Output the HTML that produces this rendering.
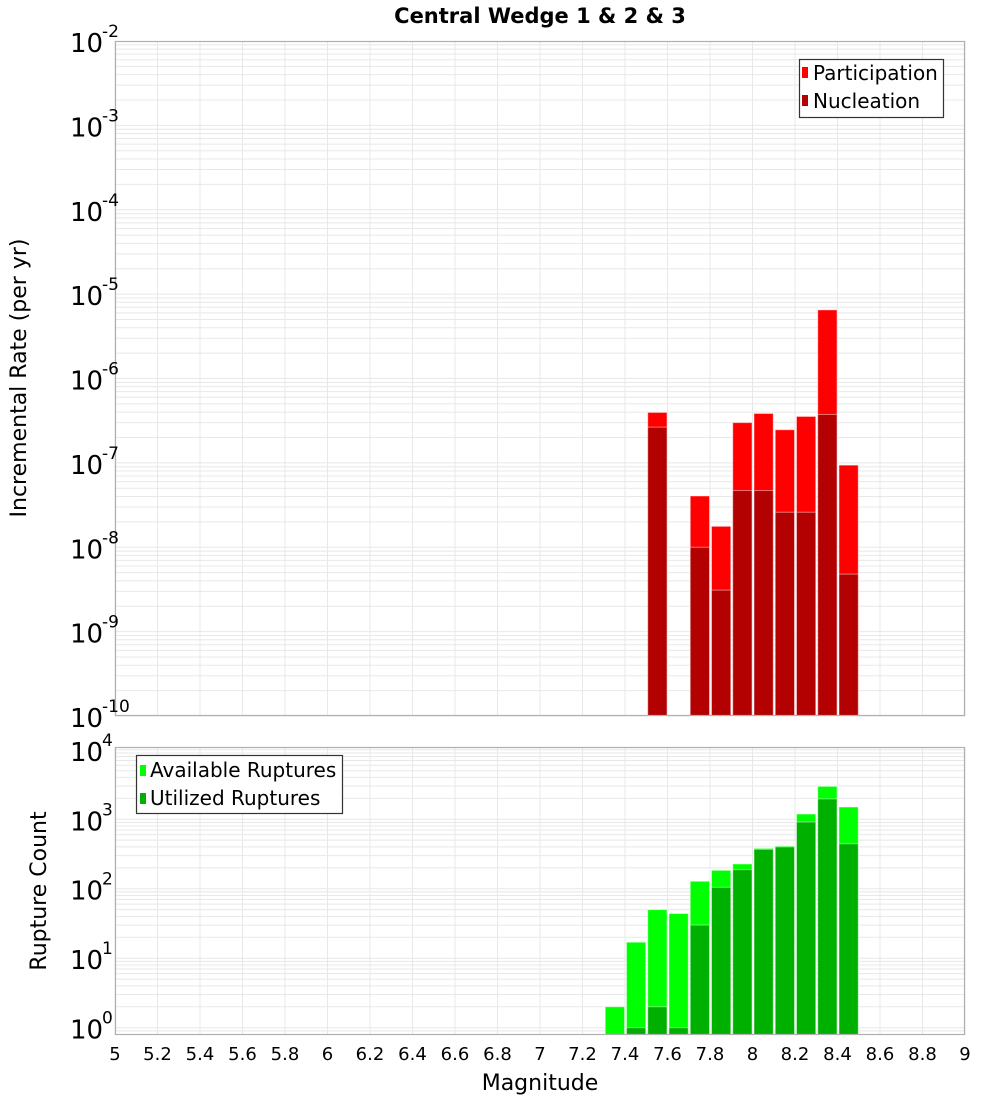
<!DOCTYPE html>
<html><head><meta charset="utf-8"><style>
html,body{margin:0;padding:0;background:#fff;}
svg text{font-family:"DejaVu Sans","Liberation Sans",sans-serif;}
</style></head><body>
<svg id="chart" width="1000" height="1100" xmlns="http://www.w3.org/2000/svg">
<text x="540" y="23" text-anchor="middle" font-size="21" font-weight="bold">Central Wedge 1 &amp; 2 &amp; 3</text>
<g id="topPlot"></g>
<g id="botPlot"></g>
<text transform="translate(26,378) rotate(-90)" text-anchor="middle" font-size="22">Incremental Rate (per yr)</text>
<text transform="translate(46,891) rotate(-90)" text-anchor="middle" font-size="22">Rupture Count</text>
<text x="540" y="1090" text-anchor="middle" font-size="22">Magnitude</text>
<g id="xt"></g>
<g>
<rect x="799.5" y="59.5" width="144" height="58" fill="#fff" stroke="#333" stroke-width="1.2"/>
<rect x="802" y="67" width="6" height="11" fill="#ff0000"/>
<text x="813" y="80" font-size="20">Participation</text>
<rect x="802" y="95" width="6" height="11" fill="#b30000"/>
<text x="813" y="108" font-size="20">Nucleation</text>
</g>
<g>
<rect x="136.5" y="755.5" width="206" height="58" fill="#fff" stroke="#333" stroke-width="1.2"/>
<rect x="140" y="765" width="6" height="11" fill="#00ff00"/>
<text x="150" y="777" font-size="20">Available Ruptures</text>
<rect x="140" y="793" width="6" height="11" fill="#00b000"/>
<text x="150" y="805" font-size="20">Utilized Ruptures</text>
</g>
</svg>
<script>
var rateMags = [7.55,7.75,7.85,7.95,8.05,8.15,8.25,8.35,8.45];
var participation = [3.96e-7,4.05e-8,1.77e-8,3.0e-7,3.85e-7,2.47e-7,3.55e-7,6.5e-6,9.4e-8];
var nucleation = [2.65e-7,1.0e-8,3.1e-9,4.7e-8,4.7e-8,2.6e-8,2.6e-8,3.75e-7,4.8e-9];
var countMags = [7.35,7.45,7.55,7.65,7.75,7.85,7.95,8.05,8.15,8.25,8.35,8.45];
var available = [2,17,50,44,128,184,227,381,411,1188,2974,1500];
var utilized = [0,1,2,1,30,105,188,369,400,912,1960,444];
var xTicks = ["5","5.2","5.4","5.6","5.8","6","6.2","6.4","6.6","6.8","7","7.2","7.4","7.6","7.8","8","8.2","8.4","8.6","8.8","9"];
var rateExps = [-2,-3,-4,-5,-6,-7,-8,-9,-10];
var countExps = [0,1,2,3,4];

(function(){
var NS="http://www.w3.org/2000/svg";
var X0=115,X1=965;
function xs(m){return X0+(m-5)/4*(X1-X0);}
var T0=41,T1=716;
function ysTop(v){return T0+(-2-Math.log10(v))/8*(T1-T0);}
var B0=747,B1=1035,BMAX=4.04,BMIN=-0.105;
function ysBot(v){return B0+(BMAX-Math.log10(v))/(BMAX-BMIN)*(B1-B0);}
function mk(tag,at,parent){var e=document.createElementNS(NS,tag);for(var k in at)e.setAttribute(k,at[k]);parent.appendChild(e);return e;}

function grid(g,y0,y1,ys,lo,hi){
  for(var d=lo;d<hi;d++){for(var k=1;k<10;k++){var v=k*Math.pow(10,d);var y=ys(v);
    if(y>=y0&&y<=y1){var l=mk('line',{x1:X0,x2:X1,y1:y,y2:y,stroke:'#e8e8e8','stroke-width':1},g);
    
    }}}
  for(var i=0;i<xTicks.length;i++){var x=xs(parseFloat(xTicks[i]));
    var l2=mk('line',{x1:x,x2:x,y1:y0,y2:y1,stroke:'#e8e8e8','stroke-width':1},g);
    
    }
}
function bars(g,mags,vals,ys,base,color,name){
  for(var i=0;i<mags.length;i++){if(!(vals[i]>0))continue;
    var xa=xs(mags[i]-0.05)+1.5,xb=xs(mags[i]+0.05)-0.5;var y=Math.max(ys(vals[i]),0);
    var r=mk('rect',{x:xa,y:y,width:xb-xa,height:base-y,fill:color,stroke:'rgba(255,255,255,0.45)','stroke-width':1},g);
    
    }
}
function frame(g,y0,y1){var f=mk('rect',{x:X0+0.5,y:y0+0.5,width:X1-X0-1,height:y1-y0-1,fill:'none',stroke:'#b0b0b0','stroke-width':1.2},g);
  
  }
function ylabels(g,exps,ys){
  for(var i=0;i<exps.length;i++){var y=ys(Math.pow(10,exps[i]));
    var t=mk('text',{x:70,y:y+11,'font-size':26},g);t.textContent='10';
    
    
    var s=mk('text',{x:102,y:y-4,'font-size':17},g);s.textContent=String(exps[i]);
    
    }
}
var tp=document.getElementById('topPlot'),bp=document.getElementById('botPlot');
mk('rect',{x:X0,y:T0,width:X1-X0,height:T1-T0,fill:'#fff'},tp);
grid(tp,T0,T1,ysTop,-10,-2);
bars(tp,rateMags,participation,ysTop,T1,'#ff0000','participation');
bars(tp,rateMags,nucleation,ysTop,T1,'#b30000','nucleation');
frame(tp,T0,T1);
ylabels(tp,rateExps,ysTop);
mk('rect',{x:X0,y:B0,width:X1-X0,height:B1-B0,fill:'#fff'},bp);
grid(bp,B0,B1,ysBot,-1,5);
bars(bp,countMags,available,ysBot,B1,'#00ff00','available');
bars(bp,countMags,utilized,ysBot,B1,'#00b000','utilized');
frame(bp,B0,B1);
ylabels(bp,countExps,ysBot);
var xt=document.getElementById('xt');
for(var i=0;i<xTicks.length;i++){var t=mk('text',{x:xs(parseFloat(xTicks[i])),y:1060,'font-size':18,'text-anchor':'middle'},xt);
  t.textContent=xTicks[i];
  
  }
})();
</script>
</body></html>
